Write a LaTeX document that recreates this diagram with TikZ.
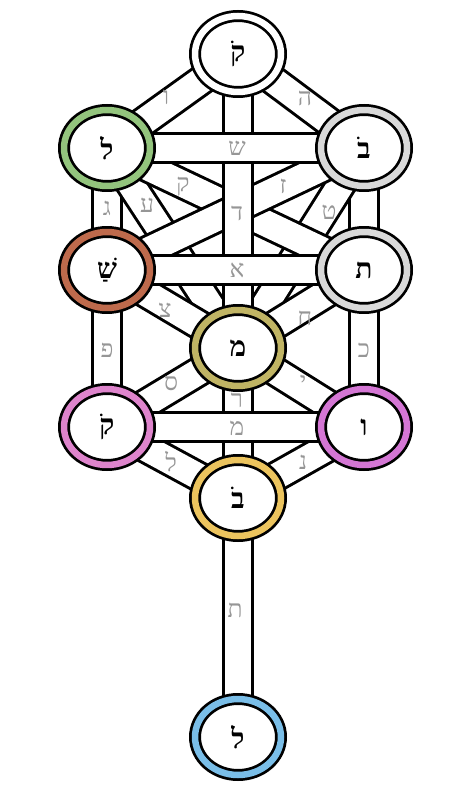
\documentclass[tikz,border=0pt]{standalone}
\usepackage{fontspec}
\newfontfamily\hebfont[Script=Hebrew]{Liberation Serif}
\TeXXeTstate=1
\usetikzlibrary{shapes.geometric,backgrounds}
\definecolor{BinahGreen}{RGB}{147,196,125}
\definecolor{SoftGray}{RGB}{217,217,217}
\definecolor{GevurahRust}{RGB}{190,106,76}
\definecolor{TiferetOlive}{RGB}{192,180,100}
\definecolor{HodPink}{RGB}{222,132,204}
\definecolor{NetzachPink}{RGB}{212,118,212}
\definecolor{YesodGold}{RGB}{236,196,94}
\definecolor{MalkuthBlue}{RGB}{122,190,232}
\definecolor{PathGray}{RGB}{150,150,150}

\begin{document}
\begin{tikzpicture}[x=0.02cm,y=-0.02cm,
    sefira/.style={ellipse,draw=black,line width=0.055cm,double=#1,double distance=0.13cm,
      fill=white,minimum width=1.72cm,minimum height=1.52cm,inner sep=0pt,
      font=\hebfont\bfseries\fontsize{16}{16}\selectfont},
    band/.style={draw=black,line width=0.06cm,double=white,double distance=0.52cm},
    pathlbl/.style={text=PathGray,inner sep=0pt,font=\hebfont\fontsize{14}{14}\selectfont}]
      \useasboundingbox (0,0) rectangle (470,800);
      % sefirot
      \node[sefira=white] (keter) at (238,54) {קֹ};
      \node[sefira=BinahGreen] (binah) at (107,148) {ל};
      \node[sefira=SoftGray] (chokmah) at (364,148) {בֹ};
      \node[sefira=GevurahRust] (gevurah) at (107,270) {שַׁ};
      \node[sefira=SoftGray] (chesed) at (364,270) {ת};
      \node[sefira=TiferetOlive] (tiferet) at (238,348) {מ};
      \node[sefira=HodPink] (hod) at (107,427) {קֹ};
      \node[sefira=NetzachPink] (netzach) at (364,427) {ו};
      \node[sefira=YesodGold] (yesod) at (238,498) {בֹ};
      \node[sefira=MalkuthBlue] (malkuth) at (238,737) {ל};
      % paths, later ones lie over earlier ones
      \begin{scope}[on background layer]
        \draw[band] (keter.center) -- (binah.center);
        \draw[band] (keter.center) -- (chokmah.center);
        \draw[band] (binah.center) -- (gevurah.center);
        \draw[band] (chokmah.center) -- (chesed.center);
        \draw[band] (binah.center) -- (tiferet.center);
        \draw[band] (chokmah.center) -- (tiferet.center);
        \draw[band] (binah.center) -- (chesed.center);
        \draw[band] (chokmah.center) -- (gevurah.center);
        \draw[band] (keter.center) -- (tiferet.center);
        \draw[band] (binah.center) -- (chokmah.center);
        \draw[band] (gevurah.center) -- (tiferet.center);
        \draw[band] (chesed.center) -- (tiferet.center);
        \draw[band] (gevurah.center) -- (hod.center);
        \draw[band] (chesed.center) -- (netzach.center);
        \draw[band] (gevurah.center) -- (chesed.center);
        \draw[band] (tiferet.center) -- (hod.center);
        \draw[band] (tiferet.center) -- (netzach.center);
        \draw[band] (hod.center) -- (yesod.center);
        \draw[band] (netzach.center) -- (yesod.center);
        \draw[band] (tiferet.center) -- (yesod.center);
        \draw[band] (hod.center) -- (netzach.center);
        \draw[band] (yesod.center) -- (malkuth.center);
      \end{scope}
      % letters of the paths
      \node[pathlbl] (vav) at (166,97) {ו};
      \node[pathlbl] (he) at (305,98) {ה};
      \node[pathlbl] (shin) at (237,148) {ש};
      \node[pathlbl] (dalet) at (237,213) {ד};
      \node[pathlbl] (qof) at (183,187) {ק};
      \node[pathlbl] (zayin) at (283,186) {ז};
      \node[pathlbl] (ayin) at (147,205) {ע};
      \node[pathlbl] (tet) at (329,212) {ט};
      \node[pathlbl] (gimel) at (107,208) {ג};
      \node[pathlbl] (alef) at (237,270) {א};
      \node[pathlbl] (tsadi) at (165,310) {צ};
      \node[pathlbl] (het) at (305,318) {ח};
      \node[pathlbl] (pe) at (107,350) {פ};
      \node[pathlbl] (kaf) at (364,350) {כ};
      \node[pathlbl] (samekh) at (171,383) {ס};
      \node[pathlbl] (yod) at (303,382) {י};
      \node[pathlbl] (resh) at (237,400) {ר};
      \node[pathlbl] (mem) at (237,428) {מ};
      \node[pathlbl] (lamed) at (171,462) {ל};
      \node[pathlbl] (nun) at (303,462) {נ};
      \node[pathlbl] (tav) at (235,610) {ת};
\end{tikzpicture}
\end{document}
